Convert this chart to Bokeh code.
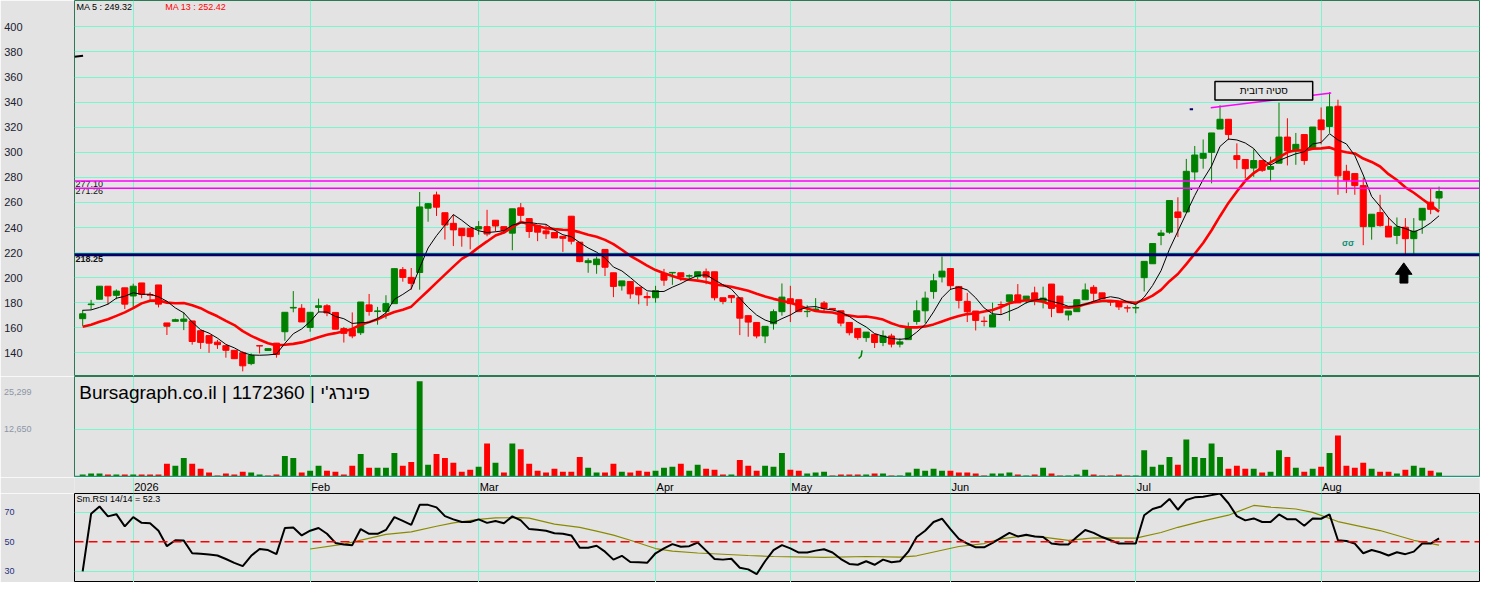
import pandas as pd
from bokeh.plotting import figure
from bokeh.layouts import column
from bokeh.models import Range1d, FixedTicker, Span
from bokeh.core.properties import value
from bokeh.embed import file_html
from bokeh.resources import INLINE

# ---------------- data ----------------
opens = [167.3,178.5,182.8,193.2,185.9,191.9,185.4,195.8,186.5,194.2,
         163.9,165.2,165.2,165.5,157.7,153.8,148.6,145.8,142.1,140.1,
         131.5,145.8,141.9,147.8,156.9,175.8,175.6,160.3,176.3,177.6,
         172.3,159.4,158.9,156.1,178.3,173.0,173.1,179.3,206.4,200.2,
         204.1,255.4,266.0,251.8,243.3,239.4,239.4,238.9,240.7,245.8,
         240.7,235.5,255.7,247.1,241.5,237.3,236.0,233.0,249.0,228.3,
         212.0,210.4,222.5,203.9,193.5,196.9,192.3,185.0,184.0,203.4,
         203.8,203.9,201.3,201.0,204.7,204.7,184.0,185.8,184.0,169.7,
         164.3,153.5,163.3,172.9,183.2,182.4,172.9,174.2,179.8,175.5,
         173.6,164.3,159.4,152.2,154.8,148.3,153.5,147.0,150.6,165.1,
         173.6,188.9,200.6,207.3,193.0,181.1,173.4,165.3,160.7,178.6,
         181.1,186.3,182.7,187.9,181.1,194.9,185.3,170.3,172.9,182.4,
         192.3,187.9,180.7,181.1,176.0,175.8,200.0,211.1,233.7,236.3,
         252.4,252.4,284.3,295.2,299.9,318.5,326.3,297.3,294.2,287.4,
         293.4,286.4,291.3,312.1,301.2,314.1,303.7,325.8,320.6,336.7,
         284.8,283.0,273.4,240.7,251.9,241.0,233.7,240.2,231.1,245.9,
         260.2,263.5]
highs = [174.3,182.3,193.2,193.2,190.6,191.9,195.2,195.8,188.5,194.2,
         163.9,167.3,172.4,165.5,157.7,153.8,150.4,145.8,142.1,141.4,
         139.6,145.8,143.4,147.8,172.4,189.3,178.9,172.4,183.3,178.9,
         172.3,160.7,172.3,180.6,187.0,176.7,186.0,207.2,208.5,207.7,
         268.3,259.5,268.6,251.8,250.2,239.4,239.4,245.1,254.1,245.8,
         240.7,254.9,259.5,247.1,241.5,242.0,236.0,233.0,249.0,228.3,
         215.5,216.8,222.5,203.9,197.4,196.9,192.3,188.4,193.5,207.0,
         204.2,203.9,202.6,204.7,207.3,204.7,184.0,185.8,184.0,169.7,
         164.3,161.2,174.7,195.4,193.5,182.4,178.0,183.7,181.4,175.5,
         173.6,164.3,159.4,156.6,154.8,157.9,155.3,151.7,164.3,181.9,
         188.9,203.1,216.9,207.3,193.0,187.9,173.4,169.0,180.1,181.1,
         186.3,194.9,185.3,192.8,192.8,194.9,185.3,173.4,182.4,195.4,
         194.1,187.9,181.9,181.1,178.0,178.0,213.0,227.2,238.1,261.5,
         264.1,294.7,305.0,310.2,315.4,337.5,326.3,307.1,294.2,302.4,
         293.4,296.5,339.5,327.1,315.4,314.1,320.1,335.7,347.8,341.9,
         290.0,283.0,279.6,250.6,266.1,248.0,248.0,247.5,247.5,255.3,
         271.3,272.6]
lows = [161.6,174.5,182.8,178.4,182.8,175.0,175.0,183.6,182.3,176.3,
        154.3,165.2,158.2,146.6,143.2,140.1,143.2,136.2,135.4,125.3,
        130.2,139.6,141.9,136.2,149.7,172.4,164.7,156.9,172.4,169.3,
        158.9,148.3,151.7,154.3,169.7,162.5,167.2,179.3,196.8,190.4,
        190.4,244.6,249.2,230.4,225.2,224.7,222.6,234.2,233.0,236.8,
        235.5,221.9,245.1,231.7,229.1,230.9,231.7,220.6,226.5,212.3,
        203.9,203.1,201.3,184.5,189.7,183.2,178.8,177.5,180.1,193.5,
        194.3,197.4,198.7,198.7,194.8,181.9,178.8,179.8,154.2,152.9,
        151.6,147.8,158.6,169.7,164.6,172.9,168.5,173.6,172.9,174.2,
        161.2,154.0,150.4,148.8,143.9,145.4,144.4,144.4,150.6,162.5,
        163.8,183.2,196.2,190.2,175.5,164.6,157.9,161.2,160.7,170.8,
        165.6,179.9,179.3,178.0,175.5,168.5,172.1,165.9,172.9,182.4,
        181.4,183.2,177.5,174.2,172.3,171.6,189.0,211.1,225.9,235.0,
        232.4,252.4,277.8,286.9,275.2,318.5,309.7,286.9,279.1,280.4,
        284.3,277.0,291.3,289.5,290.0,290.0,303.7,306.3,315.4,266.1,
        267.4,266.1,225.9,230.3,240.7,232.4,226.7,217.4,219.0,235.0,
        250.6,254.5]
closes = [171.2,179.0,193.2,185.4,189.3,178.9,193.2,186.7,186.0,178.9,
          161.3,166.5,167.0,149.1,148.4,147.8,146.6,142.1,135.4,129.7,
          138.0,145.5,143.4,138.8,172.4,176.3,164.7,172.4,177.6,171.9,
          158.9,155.6,153.5,180.6,173.1,173.5,179.3,207.2,200.2,195.5,
          256.4,259.0,256.2,242.0,238.1,233.5,232.7,240.7,234.8,241.2,
          237.6,254.9,249.7,236.8,236.3,235.0,231.7,231.4,229.1,212.8,
          213.5,214.8,208.3,193.0,197.4,187.1,186.3,184.0,189.7,198.0,
          204.2,200.5,201.5,204.7,200.5,184.0,181.1,184.0,167.7,164.6,
          153.5,161.2,172.9,184.5,179.3,172.9,173.1,175.0,175.6,174.7,
          163.8,156.1,152.2,156.6,148.3,153.5,147.0,148.8,159.9,173.6,
          183.7,197.5,205.2,193.6,181.9,172.9,165.9,165.1,170.3,178.3,
          186.3,179.9,185.3,181.1,183.7,175.5,172.1,173.4,182.4,190.2,
          187.6,183.2,180.6,176.7,175.8,176.2,213.0,227.2,235.6,261.5,
          248.0,284.8,297.8,299.1,315.4,326.3,314.1,294.2,286.9,293.4,
          285.6,288.7,312.1,301.2,306.3,293.4,320.1,318.0,336.2,281.2,
          277.8,273.4,240.7,250.6,241.5,232.4,240.2,231.1,237.1,255.3,
          254.5,268.7]
# closes before the first visible session (only feed the moving averages)
prior_closes = [158.0,164.0,158.0,155.0,142.0,150.0,137.0,158.0,177.5,183.0,172.5,165.7]

volumes = [602,860,860,602,602,602,602,602,602,602,
           3442,2926,4991,3442,2151,1119,344,860,602,1377,
           1119,602,344,602,5507,4991,1119,1635,2926,1635,
           1377,602,2926,6024,2409,2409,2409,6282,2926,3958,
           25299,3184,6024,4991,3700,1377,1893,2668,8863,3700,
           1119,8863,7314,3442,1635,1119,2151,1377,1377,5249,
           2409,1119,1119,3442,1377,1119,1635,1377,1635,2409,
           2668,3442,1635,3184,2151,1893,602,602,4475,2926,
           1635,2926,2668,6282,1893,1635,860,1119,1377,344,
           602,602,602,602,860,860,344,344,1119,2151,
           1635,2151,1635,1635,1119,1119,860,344,860,860,
           1119,602,344,602,2409,860,344,344,602,1893,
           602,344,344,602,344,344,7056,2668,3184,5249,
           3184,9896,5249,4991,8863,5249,2151,2926,2151,2151,
           1119,1377,7056,5249,2409,1377,2151,2668,6282,10928,
           2926,2409,3700,2151,1377,1377,860,1893,2926,2409,
           1635,1119]

rsi = [30,68.9,73.9,67.2,68.7,60.4,66.7,62.8,62.6,57.5,
       47,51,50.8,42.2,41.8,41.4,40.7,38.3,35.7,33.5,
       40.5,45.1,44.4,41.6,59.3,59.7,54.3,57.5,59.3,55.4,
       49.2,48.1,47.7,58.6,55.4,55.4,58,66.7,64.1,61.5,
       75,75,73.3,67.4,65.2,63.4,63.4,65.2,62.8,64.1,
       62.6,67.2,64.5,58.6,58.2,57.5,55.8,55.4,54.3,46,
       46,47.3,43.3,37.9,40.5,36.3,36.1,35.7,42.2,45.5,
       48.4,46.6,47,49.5,44,38.3,37.9,38.5,32.4,31.3,
       28,36.8,44.4,47.7,45.5,42.7,42.7,44,44.9,42.7,
       38.3,35,34.4,36.8,34.4,37.9,36.1,36.8,43.3,53.2,
       57.5,63.4,65.6,58.6,52,48.8,46.2,46.2,49.2,52.7,
       56,53.6,54.7,53.6,53.2,48.8,48.1,48.1,53.2,58,
       56,53.2,51,48.8,48.8,48.8,68,72.2,73.9,79,
       71.7,78.3,80.1,80.5,81.6,82.7,76.1,67.4,64.5,65.8,
       63.4,63.4,68.5,65.2,65.2,60.8,65.8,65.6,68.5,51,
       50.5,48.8,42.2,44.4,42.9,40.7,42.9,41.6,43.3,48.8,
       48.8,52.3]
signal_idx = [27,31,36,39,42,44,47,49,52,53,56,59,61,63,65,68,70,73,79,82,
              88,93,97,99,104,107,109,112,114,117,120,125,128,130,133,136,
              139,141,144,146,149,154,158,161]
signal_val = [45.1,48.4,55.0,56.7,60.5,62.8,65.2,66.2,66.3,66.0,61.9,59.8,57.2,
              54.5,51.0,45.4,43.7,42.4,40.7,40.0,39.4,40.0,39.6,40.5,46.8,48.8,
              52.0,54.3,53.2,51.0,52.7,52.5,56.3,59.8,64.1,68.0,74.6,73.5,72.2,
              69.9,63.7,57.6,51.0,47.7]

month_idx = [6, 27, 47, 68, 84, 103, 125, 147]
month_names = ["2026", "Feb", "Mar", "Apr", "May", "Jun", "Jul", "Aug"]
price_ticks = [140, 160, 180, 200, 220, 240, 260, 280, 300, 320, 340, 360, 380, 400]
level_values = [277.10, 271.26]
support_value = 218.25
vol_grid = [12650]
rsi_ticks = [30, 50, 70]

# ---------------- derived ----------------
n = len(closes)
xs = list(range(n))
allc = pd.Series(prior_closes + closes)
ma5 = allc.rolling(5).mean().iloc[len(prior_closes):].tolist()
ma13 = allc.rolling(13).mean().iloc[len(prior_closes):].tolist()

BG = "#e3e3e3"
GRID = "#7af5cf"
GREEN = "#008000"
RED = "#ff0000"
FONT = value("Liberation Sans")

candle_col = [GREEN if c >= o else RED for o, c in zip(opens, closes)]
prev = [prior_closes[-1]] + closes[:-1]
vol_col = [GREEN if c >= p else RED for c, p in zip(closes, prev)]
body_top = [max(o, c) for o, c in zip(opens, closes)]
body_bot = [min(o, c) for o, c in zip(opens, closes)]

W = 1480
LEFT = 73
xr = Range1d(-0.97, 165.8)

def make_fig(h, yr):
    p = figure(width=W, height=h, x_range=xr, y_range=yr,
               output_backend="svg", toolbar_location=None,
               x_axis_location=None, min_border_left=LEFT, min_border_right=1,
               min_border_top=0, min_border_bottom=0,
               background_fill_color=BG, border_fill_color=BG)
    p.xgrid.ticker = FixedTicker(ticks=month_idx)
    p.xgrid.grid_line_color = GRID
    p.xgrid.grid_line_width = 1
    p.ygrid.grid_line_color = GRID
    p.ygrid.grid_line_width = 1
    ax = p.yaxis[0]
    ax.axis_line_color = None
    ax.major_tick_line_color = None
    ax.minor_tick_line_color = None
    ax.major_tick_out = 0
    ax.major_tick_in = 0
    ax.major_label_text_font = "Liberation Sans"
    return p

# ---------------- price panel ----------------
p1 = make_fig(376, Range1d(121.2, 421.0))
p1.outline_line_color = "#2a7a55"
p1.yaxis.ticker = FixedTicker(ticks=price_ticks)
p1.ygrid.ticker = FixedTicker(ticks=price_ticks)
p1.yaxis.major_label_text_font_size = "11px"
p1.yaxis.major_label_text_color = "#202030"
p1.yaxis.major_label_standoff = 52

for lv in level_values:
    p1.add_layout(Span(location=lv, dimension="width", line_color="#ff00ff", line_width=1.5))
p1.add_layout(Span(location=support_value, dimension="width", line_color="#000066", line_width=3))

p1.segment(x0=xs, y0=highs, x1=xs, y1=lows, line_color=candle_col, line_width=1)
p1.vbar(x=xs, width=0.72, top=body_top, bottom=body_bot, fill_color=candle_col,
        line_color=candle_col, line_width=1)
p1.line(xs, ma13, line_color=RED, line_width=2.6)
p1.line(xs, ma5, line_color="black", line_width=1)

p1.text(x=[-0.85, -0.85], y=level_values, text=["277.10", "271.26"],
        text_font=FONT, text_font_size="9px", text_color="#101010",
        text_baseline="top", text_align="left")
p1.text(x=[-0.85], y=[support_value - 1.2], text=["218.25"], text_font=FONT,
        text_font_size="9px", text_font_style="bold", text_color="#101010",
        text_baseline="top", text_align="left")
p1.text(x=[-0.74], y=[419.6], text=["MA 5 : 249.32"], text_font=FONT,
        text_font_size="9px", text_color="black", text_baseline="top", text_align="left")
p1.text(x=[9.8], y=[419.6], text=["MA 13 : 252.42"], text_font=FONT,
        text_font_size="9px", text_color=RED, text_baseline="top", text_align="left")

# annotations
p1.line([133.9, 148.2], [335.5, 347.2], line_color="#ff00ff", line_width=1.5)
p1.quad(left=[134.4], right=[146.0], top=[356.5], bottom=[341.7],
        fill_color=BG, line_color="black", line_width=1.5)
p1.text(x=[140.2], y=[349.1], text=["סטיה דובית"], text_font=FONT,
        text_font_size="10px", text_color="black", text_align="center",
        text_baseline="middle")
p1.line([131.4, 131.8], [334.2, 334.2], line_color="#000066", line_width=2)
p1.line([131.5, 131.7], [270.3, 270.3], line_color="#000066", line_width=1)
p1.text(x=[150.2], y=[227.6], text=["σσ"], text_font=FONT, text_font_size="9px",
        text_font_style="bold", text_color="#12907a", text_align="center",
        text_baseline="middle")
p1.line([92.51, 92.4, 92.1], [142.1, 137.5, 135.5], line_color=GREEN, line_width=1.5)
p1.patch([156.81, 157.79, 157.30, 157.30, 156.36, 156.36, 155.83],
         [211.8, 202.7, 202.7, 195.7, 195.7, 202.7, 202.7],
         fill_color="black", line_color="black")
p1.line([-0.97, 0.05], [376.2, 376.9], line_color="black", line_width=2)

# ---------------- volume panel ----------------
p2 = make_fig(101, Range1d(-180, 26590))
p2.outline_line_color = "#2a7a55"
p2.yaxis.ticker = FixedTicker(ticks=[12650, 22471])
p2.yaxis.major_label_overrides = {12650: "12,650", 22471: "25,299"}
p2.ygrid.ticker = FixedTicker(ticks=vol_grid)
p2.yaxis.major_label_text_font_size = "9px"
p2.yaxis.major_label_text_color = "#8c96a6"
p2.yaxis.major_label_standoff = 43
p2.vbar(x=xs, width=0.7, top=volumes, bottom=0, fill_color=vol_col, line_color=None)
p2.add_layout(Span(location=-90, dimension="width", line_color="#1a9a78", line_width=3))
p2.text(x=[-0.4], y=[25100], text=["Bursagraph.co.il | 1172360 | פינרג'י"],
        text_font=FONT, text_font_size="19px", text_color="black",
        text_baseline="top", text_align="left")

# ---------------- month label strip ----------------
p3 = figure(width=W, height=16, x_range=xr, y_range=Range1d(0, 1),
            output_backend="svg", toolbar_location=None,
            x_axis_location=None, y_axis_location=None,
            min_border_left=LEFT, min_border_right=1, min_border_top=0, min_border_bottom=0,
            background_fill_color=BG, border_fill_color=BG, outline_line_color=None)
p3.xgrid.ticker = FixedTicker(ticks=month_idx)
p3.xgrid.grid_line_color = GRID
p3.ygrid.grid_line_color = None
p3.text(x=month_idx, y=[0.5] * len(month_idx), text=month_names, text_font=FONT,
        text_font_size="11px", text_color="black", text_align="left",
        text_baseline="middle", x_offset=1, y_offset=1)

# ---------------- RSI panel ----------------
p4 = make_fig(89, Range1d(22.4, 82.7))
p4.outline_line_color = "black"
p4.yaxis.ticker = FixedTicker(ticks=rsi_ticks)
p4.ygrid.ticker = FixedTicker(ticks=[30, 70])
p4.yaxis.major_label_text_font_size = "9px"
p4.yaxis.major_label_text_color = "#1f2f7f"
p4.yaxis.major_label_standoff = 60
p4.add_layout(Span(location=50, dimension="width", line_color=RED, line_width=1.5,
                   line_dash="9 5"))
p4.line(signal_idx, signal_val, line_color="#8a8a00", line_width=1.2)
p4.line(xs, rsi, line_color="black", line_width=2)
p4.text(x=[-0.74], y=[82.2], text=["Sm.RSI 14/14 = 52.3"], text_font=FONT,
        text_font_size="9px", text_color="black", text_baseline="top", text_align="left")

layout = column(p1, p2, p3, p4, spacing=0)
open("out.html", "w").write(file_html(layout, INLINE))
